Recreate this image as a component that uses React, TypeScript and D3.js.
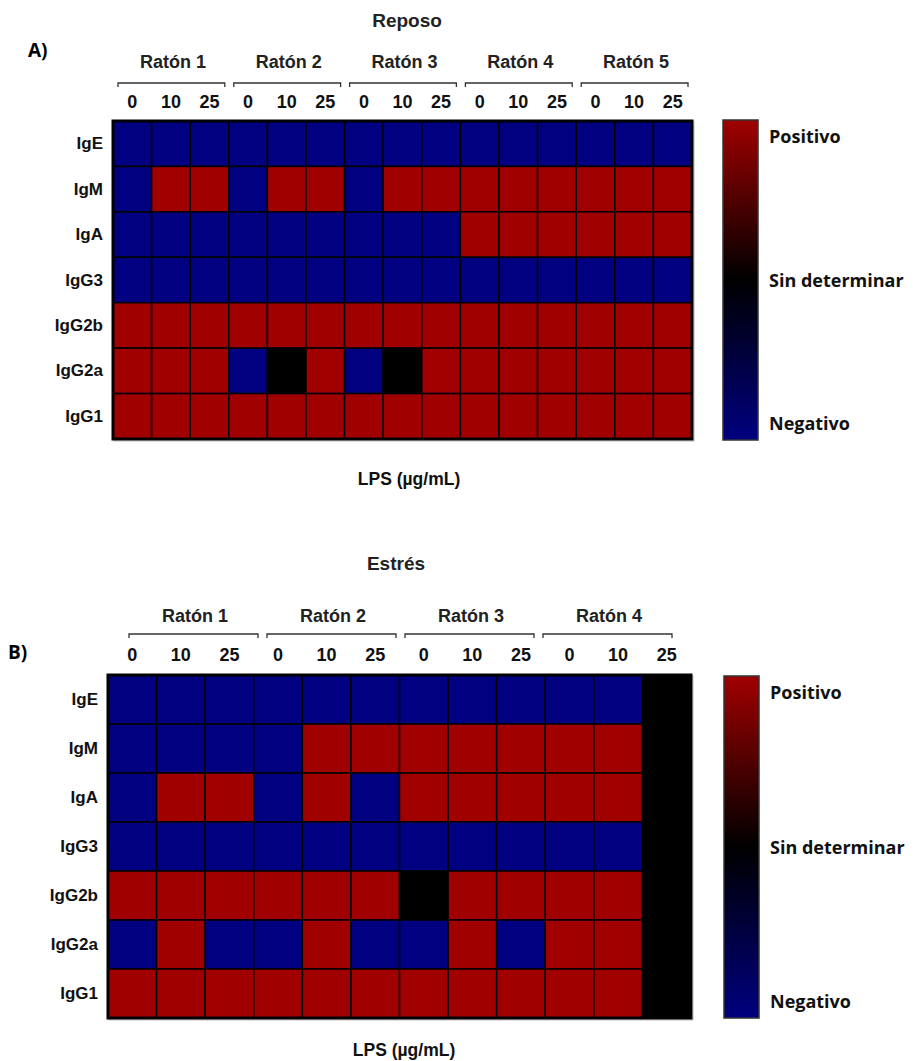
import React from 'react';
import * as d3 from 'd3';

// 1 = Positivo, 0 = Sin determinar, -1 = Negativo
const isotypes = ["IgE", "IgM", "IgA", "IgG3", "IgG2b", "IgG2a", "IgG1"];
const doses = ["0", "10", "25"];

const reposoMice = ["Ratón 1", "Ratón 2", "Ratón 3", "Ratón 4", "Ratón 5"];
const reposoValues = [
    [-1, -1, -1, -1, -1, -1, -1, -1, -1, -1, -1, -1, -1, -1, -1],
    [-1, 1, 1, -1, 1, 1, -1, 1, 1, 1, 1, 1, 1, 1, 1],
    [-1, -1, -1, -1, -1, -1, -1, -1, -1, 1, 1, 1, 1, 1, 1],
    [-1, -1, -1, -1, -1, -1, -1, -1, -1, -1, -1, -1, -1, -1, -1],
    [1, 1, 1, 1, 1, 1, 1, 1, 1, 1, 1, 1, 1, 1, 1],
    [1, 1, 1, -1, 0, 1, -1, 0, 1, 1, 1, 1, 1, 1, 1],
    [1, 1, 1, 1, 1, 1, 1, 1, 1, 1, 1, 1, 1, 1, 1],
];

const estresMice = ["Ratón 1", "Ratón 2", "Ratón 3", "Ratón 4"];
const estresValues = [
    [-1, -1, -1, -1, -1, -1, -1, -1, -1, -1, -1, 0],
    [-1, -1, -1, -1, 1, 1, 1, 1, 1, 1, 1, 0],
    [-1, 1, 1, -1, 1, -1, 1, 1, 1, 1, 1, 0],
    [-1, -1, -1, -1, -1, -1, -1, -1, -1, -1, -1, 0],
    [1, 1, 1, 1, 1, 1, 0, 1, 1, 1, 1, 0],
    [-1, 1, -1, -1, 1, -1, -1, 1, -1, 1, 1, 0],
    [1, 1, 1, 1, 1, 1, 1, 1, 1, 1, 1, 0],
];

const legendLabels = ["Positivo", "Sin determinar", "Negativo"];
const legendValues = [1, 0, -1];

const color = d3.scaleLinear<string>()
    .domain([-1, 0, 1])
    .range(["#000080", "#000000", "#a00000"]);

const font = "'Liberation Sans', Arial, sans-serif";
const legendFont = "'Open Sans', sans-serif";

const Panel = ({ letter, title, mice, values, box, groupRange, legendBox, head }) => {
    const cols = mice.flatMap((m) => doses.map((d) => `${m}|${d}`));
    const x = d3.scaleBand().domain(cols).range([box.x0, box.x1]);
    const y = d3.scaleBand().domain(isotypes).range([box.y0, box.y1]);
    const g = d3.scaleBand().domain(mice).range(groupRange);
    const ly = d3.scaleLinear().domain([1, -1]).range([legendBox.y0 + 16, legendBox.y1 - 17]);
    const gradId = `grad-${letter}`;

    return (
        <g>
            <defs>
                <linearGradient id={gradId} x1="0" y1="0" x2="0" y2="1">
                    {[1, 0, -1].map((v, i) => (
                        <stop key={i} offset={`${i * 50}%`} stopColor={color(v)} />
                    ))}
                </linearGradient>
            </defs>

            <text x={head.titleX} y={head.title} fontFamily={font} fontWeight="bold" fontSize={19}
                fill="#222" textAnchor="middle" dominantBaseline="central">{title}</text>
            <text x={head.letterX} y={head.letter} fontFamily="'Open Sans', sans-serif" fontWeight="bold"
                fontSize={19} fill="#000" dominantBaseline="central">{letter})</text>

            {mice.map((m) => {
                const a = g(m) + 5;
                const b = g(m) + g.bandwidth() - 4;
                return (
                    <g key={m}>
                        <text x={g(m) + g.bandwidth() / 2 + 2} y={head.mouse} fontFamily={font} fontWeight="bold"
                            fontSize={18} fill="#222" textAnchor="middle" dominantBaseline="central">{m}</text>
                        <path d={`M${a},${head.bracket + 4}V${head.bracket}H${b}V${head.bracket + 4}`}
                            fill="none" stroke="#333" strokeWidth={1.3} />
                    </g>
                );
            })}

            {cols.map((c) => (
                <text key={c} x={x(c) + x.bandwidth() / 2} y={head.dose} fontFamily={font} fontWeight="bold"
                    fontSize={18} fill="#111" textAnchor="middle" dominantBaseline="central">{c.split("|")[1]}</text>
            ))}

            {isotypes.map((iso) => (
                <text key={iso} x={box.x0 - 10} y={y(iso) + y.bandwidth() / 2} fontFamily={font}
                    fontWeight="bold" fontSize={17} fill="#111" textAnchor="end" dominantBaseline="central">{iso}</text>
            ))}

            <rect x={box.x0 + 1} y={box.y0 + 1} width={box.x1 - box.x0 + 1} height={box.y1 - box.y0 + 1}
                fill="none" stroke="#bbb" strokeWidth={1} />
            {isotypes.map((iso, r) => cols.map((c, k) => (
                <rect key={`${iso}-${c}`} x={x(c)} y={y(iso)} width={x.bandwidth()} height={y.bandwidth()}
                    fill={color(values[r][k])} stroke="#000" strokeWidth={1.5} />
            )))}
            <rect x={box.x0} y={box.y0} width={box.x1 - box.x0} height={box.y1 - box.y0}
                fill="none" stroke="#000" strokeWidth={3} />

            <text x={head.lpsX} y={head.lps} fontFamily={font} fontWeight="bold" fontSize={17.5}
                fill="#111" textAnchor="middle" dominantBaseline="central">LPS (µg/mL)</text>

            <rect x={legendBox.x0} y={legendBox.y0} width={legendBox.x1 - legendBox.x0}
                height={legendBox.y1 - legendBox.y0} fill={`url(#${gradId})`} stroke="#333" strokeWidth={1.5} />
            {legendLabels.map((l, i) => (
                <text key={l} x={legendBox.x1 + 11} y={ly(legendValues[i])} fontFamily={legendFont}
                    fontWeight="bold" fontSize={18} fill="#111" dominantBaseline="central">{l}</text>
            ))}
        </g>
    );
};

export default function App() {
    return (
        <svg width={918} height={1061} style={{ position: "absolute", left: 0, top: 0, background: "#fff" }}>
            <Panel
                letter="A" title="Reposo" mice={reposoMice} values={reposoValues}
                box={{ x0: 113, x1: 692, y0: 121, y1: 439 }}
                groupRange={[113, 692]}
                legendBox={{ x0: 723, x1: 758, y0: 120, y1: 440 }}
                head={{ title: 20, titleX: 407, letter: 50, letterX: 28, mouse: 62, bracket: 83, dose: 102, lps: 479, lpsX: 409 }}
            />
            <Panel
                letter="B" title="Estrés" mice={estresMice} values={estresValues}
                box={{ x0: 108, x1: 691, y0: 675, y1: 1018 }}
                groupRange={[124, 676]}
                legendBox={{ x0: 724, x1: 759, y0: 676, y1: 1018 }}
                head={{ title: 563, titleX: 396, letter: 652, letterX: 8, mouse: 616, bracket: 634, dose: 655, lps: 1050, lpsX: 404 }}
            />
        </svg>
    );
}
